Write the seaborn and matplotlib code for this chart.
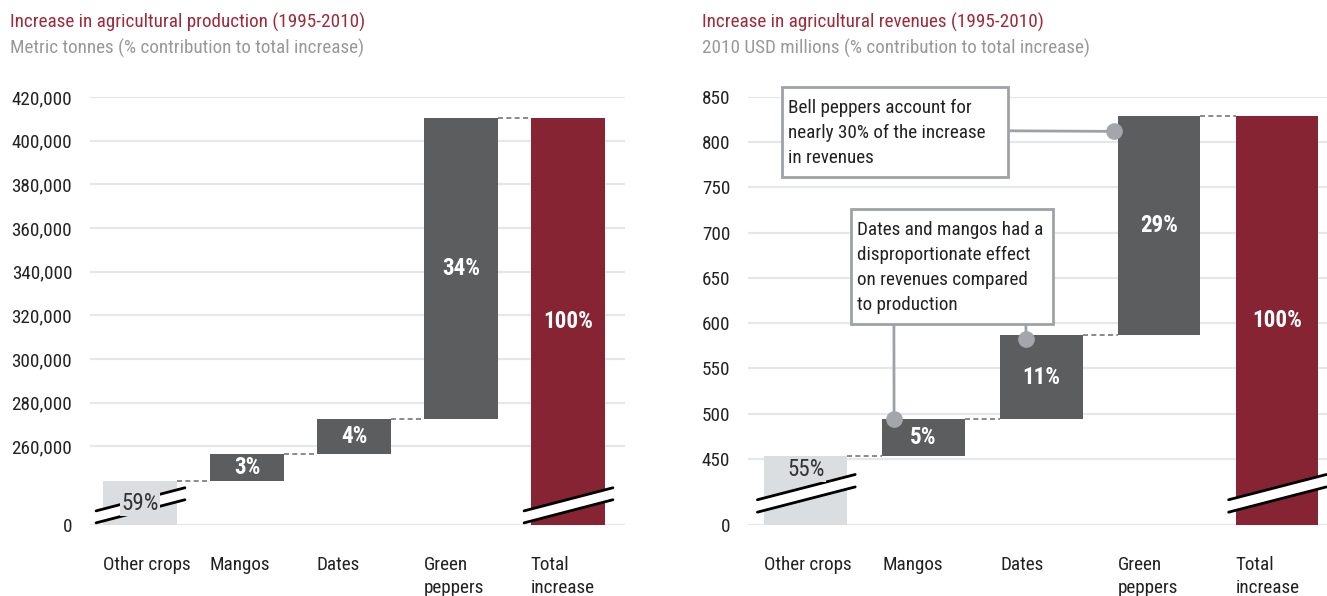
import numpy as np
import seaborn as sns
from matplotlib import pyplot as plt
from matplotlib import transforms
from matplotlib import font_manager as fm
from matplotlib.patches import Rectangle

# data
crops = ['Other crops', 'Mangos', 'Dates', 'Green peppers', 'Total increase']
crop_labels = ['Other crops', 'Mangos', 'Dates', 'Green\npeppers', 'Total\nincrease']
prod_steps = [244000, 12500, 16000, 138000]      # metric tonnes
rev_steps = [453, 41, 93, 242]                   # 2010 USD millions
prod_ticks = [0, 260000, 280000, 300000, 320000, 340000, 360000, 380000, 400000, 420000]
rev_ticks = [0, 450, 500, 550, 600, 650, 700, 750, 800, 850]

titles = ['Increase in agricultural production (1995-2010)',
          'Increase in agricultural revenues (1995-2010)']
subtitles = ['Metric tonnes (% contribution to total increase)',
             '2010 USD millions (% contribution to total increase)']
note_peppers = 'Bell peppers account for\nnearly 30% of the increase\nin revenues'
note_dates = 'Dates and mangos had a\ndisproportionate effect\non revenues compared\nto production'

RED = '#862434'
DARK = '#5c5d5f'
LIGHT = '#dadee1'
GRID = '#e4e8eb'
LINE = '#9ea2a7'

sns.set_theme(style='white')

# pick a narrow font if one is around
have = {(f.name, str(f.stretch)) for f in fm.fontManager.ttflist}
names = {n for n, s in have}
if 'Roboto Condensed' in names:
    fam = 'Roboto Condensed'
    FS = 13.8
elif 'Liberation Sans Narrow' in names:
    fam = 'Liberation Sans Narrow'
    FS = 13.5
else:
    fam = 'Roboto'
    FS = 12
plt.rcParams['font.family'] = [fam, 'DejaVu Sans']
plt.rcParams['font.size'] = FS
plt.rcParams['xtick.labelsize'] = FS
plt.rcParams['ytick.labelsize'] = FS
BAR_FS = FS * 1.2


def broken_scale(brk, d_brk, offset):
    # compress [0, brk] into [0, d_brk], shift everything above by offset
    def fwd(v):
        v = np.asarray(v, dtype=float)
        return np.where(v < brk, v * d_brk / brk, v - offset)

    def inv(d):
        d = np.asarray(d, dtype=float)
        return np.where(d < d_brk, d * brk / d_brk, d + offset)
    return fwd, inv


def waterfall(ax, steps, ticks, tick_fmt, scale, xlim, other_label_y, brk_low, brk_gap):
    total = sum(steps)
    tops = list(np.cumsum(steps)) + [total]
    bottoms = [0] + list(np.cumsum(steps)[:-1]) + [0]
    colors = [LIGHT, DARK, DARK, DARK, RED]

    sns.barplot(x=crops, y=tops, hue=crops, palette=colors, order=crops,
                width=0.7, legend=False, saturation=1, ax=ax, zorder=2)
    fwd, inv = scale
    ax.set_yscale('function', functions=(fwd, inv))
    for p in ax.patches:
        i = int(round(p.get_x() + p.get_width() / 2))
        p.set_y(bottoms[i])
        p.set_height(tops[i] - bottoms[i])
        p.set_linewidth(0)

    ax.set_ylim(0, ticks[-1])
    ax.set_xlim(*xlim)
    ax.set_yticks(ticks)
    ax.set_yticklabels([tick_fmt(t) for t in ticks], color='#222222', fontsize=FS)
    ax.set_xticks([i - 0.35 for i in range(5)])
    ax.set_xticklabels(crop_labels, ha='left', va='top', color='#222222',
                       linespacing=1.4, fontsize=FS)
    ax.tick_params(axis='x', length=0, pad=22)
    ax.tick_params(axis='y', length=0, pad=12.8)
    ax.set_xlabel('')
    ax.set_ylabel('')
    for t in ticks:
        ax.axhline(t, color=GRID, lw=1.6, zorder=0)
    sns.despine(ax=ax, left=True, bottom=True)

    # dashed connectors
    for i in range(4):
        ax.plot([i + 0.35, i + 0.65], [tops[i], tops[i]], color='#777777',
                lw=1.2, ls=(0, (3, 2)), zorder=1)

    # percentage labels
    for i in range(1, 5):
        mid = inv((fwd(bottoms[i]) + fwd(tops[i])) / 2)
        ax.text(i, float(mid), f'{round((tops[i] - bottoms[i]) / total * 100)}%',
                ha='center', va='center', color='white', fontweight='bold',
                fontsize=BAR_FS, zorder=6)

    # break marks on the two bars that start at zero
    bt = transforms.blended_transform_factory(ax.transData, ax.transAxes)
    for x0 in [0, 4]:
        xs = [x0 - 0.41, x0 + 0.42]
        y_lo = list(brk_low)
        y_hi = [y + brk_gap for y in brk_low]
        ax.fill([xs[0], xs[1], xs[1], xs[0]], [y_lo[0], y_lo[1], y_hi[1], y_hi[0]],
                color='white', transform=bt, zorder=3, clip_on=False, lw=0)
        ax.plot(xs, y_lo, color='black', lw=2, transform=bt, zorder=4, clip_on=False)
        ax.plot(xs, y_hi, color='black', lw=2, transform=bt, zorder=4, clip_on=False)

    ax.text(0, other_label_y, f'{round(steps[0] / total * 100)}%', ha='center', va='center',
            color='#333333', zorder=6, fontsize=BAR_FS,
            bbox=dict(boxstyle='square,pad=0.05', fc=LIGHT, ec='none'))
    return tops


fig = plt.figure(figsize=(13.27, 5.96), dpi=100)
ax1 = fig.add_axes([90 / 1327, 71 / 596, 535 / 1327, 428 / 596])
ax2 = fig.add_axes([748 / 1327, 71 / 596, 579 / 1327, 428 / 596])

waterfall(ax1, prod_steps, prod_ticks, lambda t: f'{t:,}',
          broken_scale(230000, 6000, 224000), (-0.467, 4.533), 234000,
          (0.005, 0.059), 0.028)
waterfall(ax2, rev_steps, rev_ticks, lambda t: f'{t}',
          broken_scale(390, 13, 377), (-0.49, 4.425), 438,
          (0.030, 0.089), 0.029)

# titles
for x, t, s in zip([10, 702], titles, subtitles):
    fig.text(x / 1327, 1 - 22 / 596, t, color='#9e2b3b', va='center', ha='left')
    fig.text(x / 1327, 1 - 48 / 596, s, color='#999999', va='center', ha='left')

# annotations on revenue chart
ax2.add_patch(Rectangle((0.0587, 0.813), 0.390, 0.210, transform=ax2.transAxes,
                        fc='white', ec=LINE, lw=2, zorder=7, clip_on=False))
ax2.text(0.069, 0.996, note_peppers, transform=ax2.transAxes, ha='left', va='top',
         color='#222222', zorder=8, linespacing=1.5)
ax2.add_patch(Rectangle((0.178, 0.470), 0.349, 0.268, transform=ax2.transAxes,
                        fc='white', ec=LINE, lw=2, zorder=7, clip_on=False))
ax2.text(0.188, 0.711, note_dates, transform=ax2.transAxes, ha='left', va='top',
         color='#222222', zorder=8, linespacing=1.5)

for xy, xytext in [((2.62, 812), (0.449, 0.921)),
                   ((0.75, 494), (0.252, 0.470)),
                   ((1.87, 583), (0.480, 0.470))]:
    ax2.annotate('', xy=xy, xycoords='data', xytext=xytext, textcoords='axes fraction',
                 arrowprops=dict(arrowstyle='-', color=LINE, lw=2, shrinkA=0, shrinkB=0),
                 zorder=6)
    ax2.plot(*xy, 'o', ms=11, color='#a3a7ab', zorder=7, clip_on=False)

fig.savefig('out.png', dpi=100)
